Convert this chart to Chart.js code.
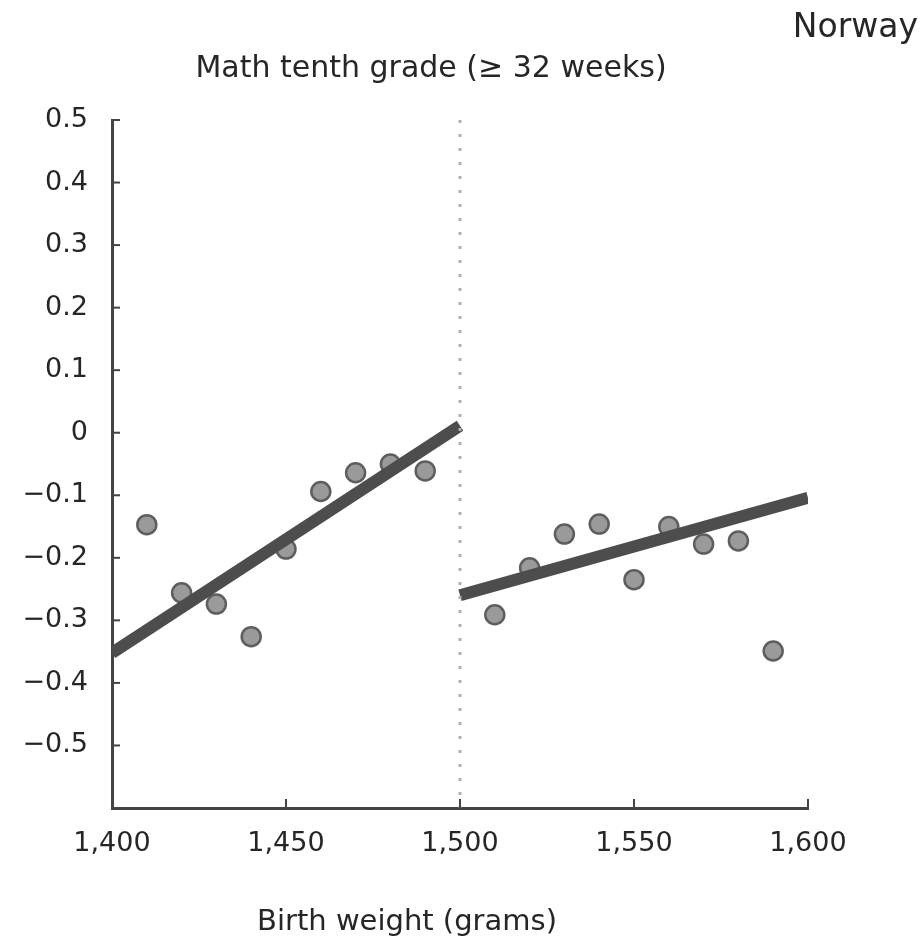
<!DOCTYPE html>
<html>
<head>
<meta charset="utf-8">
<script src="https://cdn.jsdelivr.net/npm/chart.js@4"></script>
<style>
  html, body { margin: 0; padding: 0; background: #fff; }
  #wrap { width: 924px; height: 945px; }
</style>
</head>
<body>
<div id="wrap"><canvas id="rdChart"></canvas></div>
<script>
// binned means, Norway, math tenth grade
const birthWeight = [1410, 1420, 1430, 1440, 1450, 1460, 1470, 1480, 1490,
                     1510, 1520, 1530, 1540, 1550, 1560, 1570, 1580, 1590];
const mathScore = [-0.147, -0.256, -0.274, -0.326, -0.186, -0.094, -0.064, -0.050, -0.061,
                   -0.291, -0.216, -0.162, -0.146, -0.235, -0.150, -0.178, -0.173, -0.349];

// fitted lines each side of the cutoff
const fitLeftX = [1400, 1500];
const fitLeftY = [-0.352, 0.011];
const fitRightX = [1500, 1600];
const fitRightY = [-0.260, -0.104];

const cutoff = 1500;
const xTicks = [1400, 1450, 1500, 1550, 1600];
const yTicks = [0.5, 0.4, 0.3, 0.2, 0.1, 0, -0.1, -0.2, -0.3, -0.4, -0.5, -0.6];

const titleText = 'Math tenth grade (\u2265 32 weeks)';
const countryText = 'Norway';
const xTitleText = 'Birth weight (grams)';

const FONT = '"DejaVu Sans", sans-serif';
const AXIS = '#444';
const TEXT = '#262626';

function pts(xs, ys) {
    return xs.map((x, i) => ({ x: x, y: ys[i] }));
}

// inner tick marks + text labels
const decor = {
    id: 'decor',
    afterDraw(chart) {
        const c = chart.ctx;
        const xs = chart.scales.x, ys = chart.scales.y;
        const area = chart.chartArea;
        c.save();
        c.strokeStyle = AXIS;
        c.lineWidth = 2;
        xTicks.forEach(v => {
            const px = xs.getPixelForValue(v);
            c.beginPath();
            c.moveTo(px, area.bottom);
            c.lineTo(px, area.bottom - 9);
            c.stroke();
        });
        yTicks.forEach(v => {
            const py = ys.getPixelForValue(v);
            c.beginPath();
            c.moveTo(area.left, py);
            c.lineTo(area.left + 8, py);
            c.stroke();
        });
        c.fillStyle = TEXT;
        c.textBaseline = 'middle';
        c.textAlign = 'center';
        c.font = '30px ' + FONT;
        c.fillText(titleText, 431, 69);
        c.font = '29px ' + FONT;
        c.fillText(xTitleText, 407, 922);
        c.font = '33px ' + FONT;
        c.textAlign = 'right';
        c.fillText(countryText, 918, 28);
        c.restore();
    }
};

const ctx = document.getElementById('rdChart');

new Chart(ctx, {
    type: 'scatter',
    data: {
        datasets: [
            {
                label: 'cutoff',
                data: [{ x: cutoff, y: 0.5 }, { x: cutoff, y: -0.6 }],
                showLine: true,
                borderColor: '#b0b0b0',
                borderWidth: 3,
                borderDash: [3, 11],
                pointRadius: 0
            },
            {
                label: 'fit left',
                data: pts(fitLeftX, fitLeftY),
                showLine: true,
                borderColor: '#4d4d4d',
                borderWidth: 12,
                borderCapStyle: 'butt',
                pointRadius: 0
            },
            {
                label: 'fit right',
                data: pts(fitRightX, fitRightY),
                showLine: true,
                borderColor: '#4d4d4d',
                borderWidth: 12,
                borderCapStyle: 'butt',
                pointRadius: 0
            },
            {
                label: 'bin means',
                data: pts(birthWeight, mathScore),
                pointRadius: 9.5,
                pointBackgroundColor: '#9a9a9a',
                pointBorderColor: '#5e5e5e',
                pointBorderWidth: 2.5
            }
        ]
    },
    options: {
        responsive: true,
        maintainAspectRatio: false,
        animation: false,
        events: [],
        layout: { padding: { left: 0, top: 120, right: 116, bottom: 0 } },
        plugins: {
            legend: { display: false },
            tooltip: { enabled: false }
        },
        scales: {
            x: {
                type: 'linear',
                min: 1400,
                max: 1600,
                afterBuildTicks: s => { s.ticks = xTicks.map(v => ({ value: v })); },
                afterFit: s => { s.height = 137; },
                grid: { display: false, drawTicks: false },
                border: { display: true, color: AXIS, width: 3 },
                ticks: {
                    padding: 20,
                    color: TEXT,
                    font: { family: FONT, size: 27 },
                    callback: v => v.toLocaleString('en-US')
                }
            },
            y: {
                min: -0.6,
                max: 0.5,
                afterBuildTicks: s => { s.ticks = yTicks.map(v => ({ value: v })); },
                afterFit: s => { s.width = 112; },
                grid: { display: false, drawTicks: false },
                border: { display: true, color: AXIS, width: 3 },
                ticks: {
                    padding: 24,
                    color: TEXT,
                    font: { family: FONT, size: 27 },
                    callback: v => {
                        const r = Math.round(v * 10) / 10;
                        if (r < -0.55) return '';
                        if (r === 0) return '0';
                        return r < 0 ? '\u2212' + Math.abs(r).toFixed(1) : r.toFixed(1);
                    }
                }
            }
        }
    },
    plugins: [decor]
});
</script>
</body>
</html>
